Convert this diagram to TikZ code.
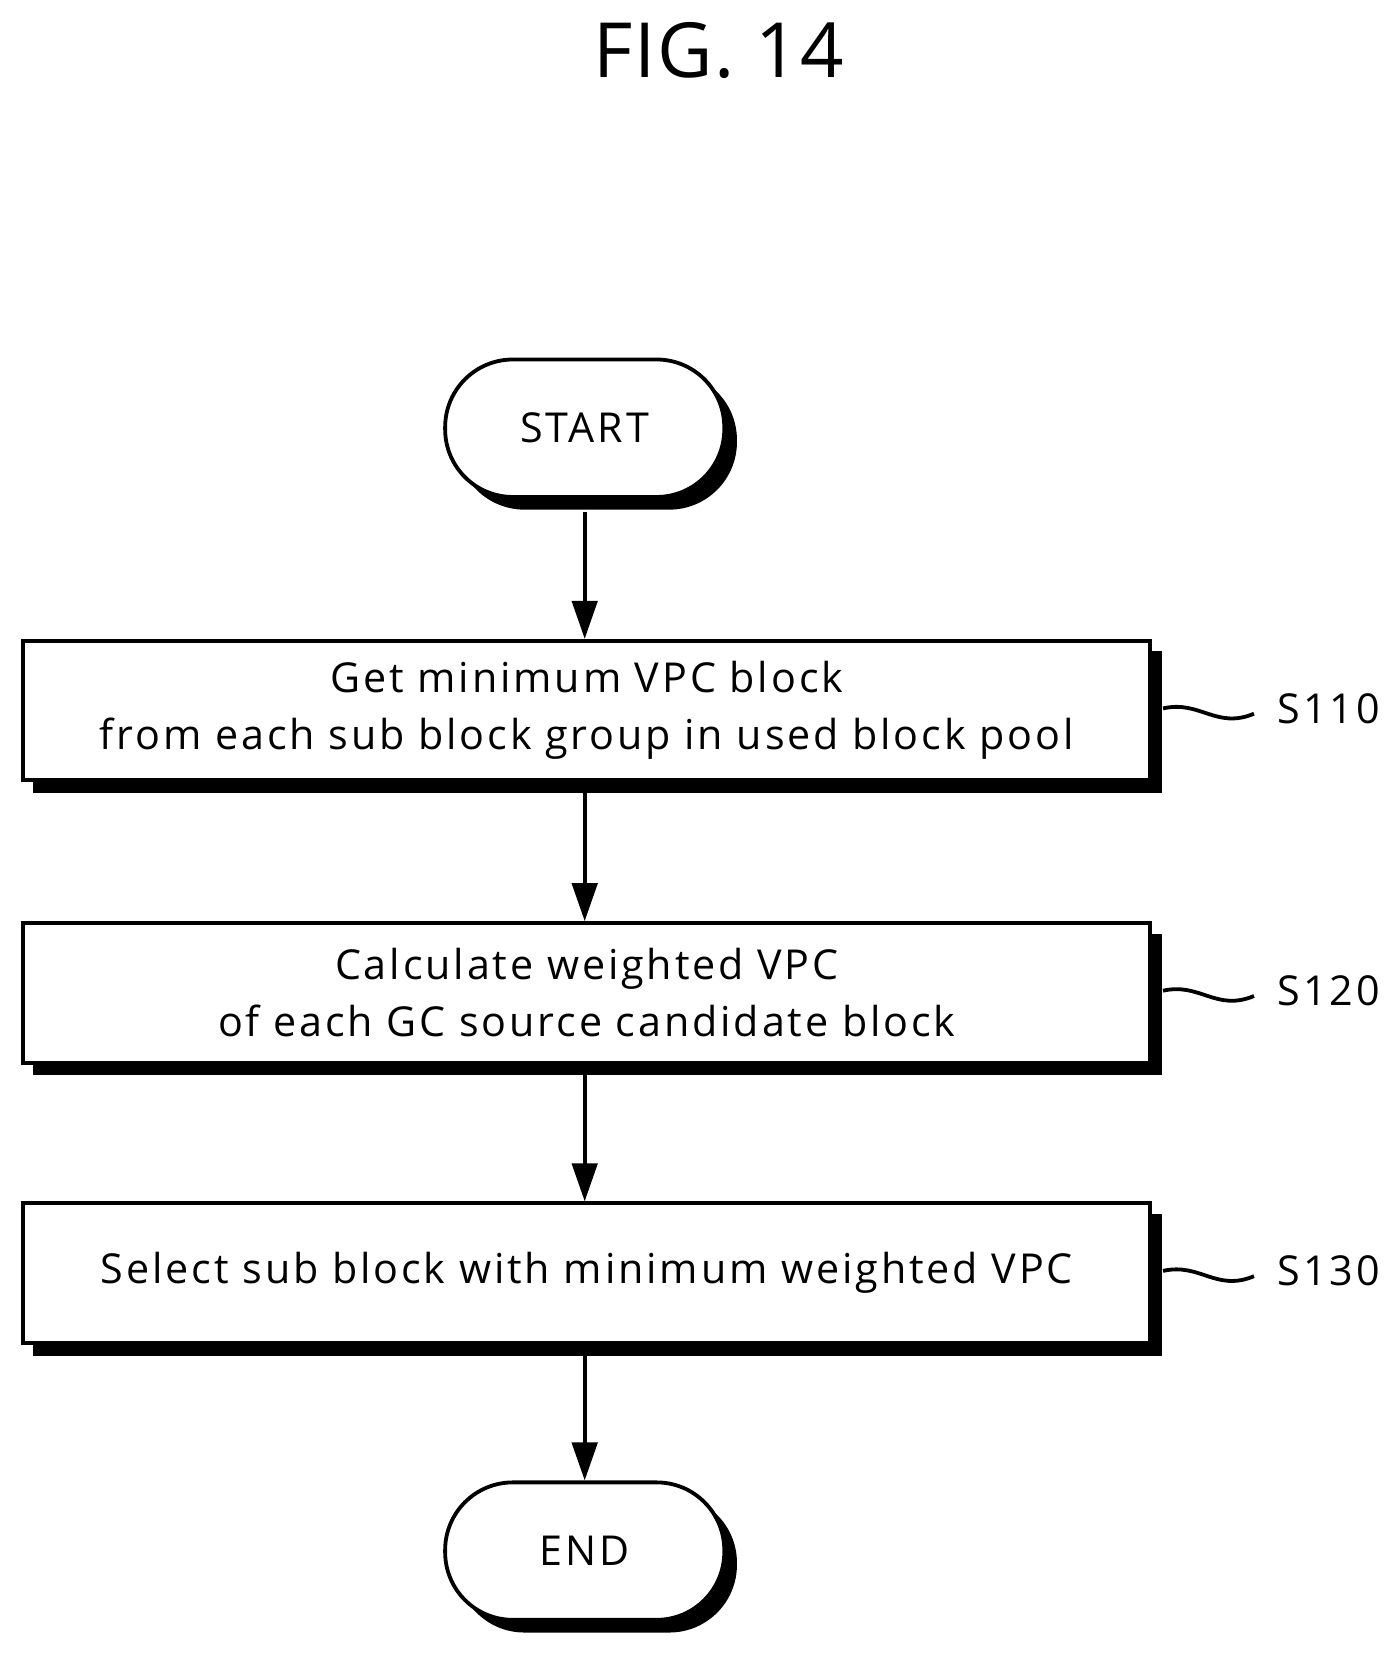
\documentclass[tikz,border=0pt]{standalone}
\usepackage{fontspec}
\setmainfont{Open Sans}[LetterSpace=7]
\usetikzlibrary{arrows.meta}
\begin{document}
\begin{tikzpicture}[x=0.5pt,y=-0.5pt,
  line width=1.8pt,
  box/.style={draw,fill=white,minimum width=533pt,minimum height=66pt,align=center,font=\fontsize{19.5}{27}\selectfont,inner sep=0pt},
  term/.style={draw,fill=white,rounded corners=32pt,minimum width=132pt,minimum height=65pt,font=\fontsize{19.5}{24}\selectfont,inner sep=0pt},
  arr/.style={-{Triangle[length=18pt,width=12pt]}},
  lbl/.style={font=\fontsize{19.5}{24}\selectfont,anchor=west}]
\useasboundingbox (0,0) rectangle (1320,1570);
\node[font=\fontsize{36}{40}\selectfont\addfontfeatures{LetterSpace=2}] (fig) at (680,48) {FIG. 14};
% shadows
\foreach \cy in {672,939,1204}
  \fill (31,\cy-56) rectangle (1099,\cy+78);
\fill[rounded corners=32pt] (432,352) rectangle (697,482);
\fill[rounded corners=32pt] (432,1414) rectangle (697,1544);
\node[term] (start) at (553,405) {START};
\node[term] (end) at (553,1467) {END};
\node[box] (b1) at (555,672) {Get minimum VPC block\\from each sub block group in used block pool};
\node[box] (b2) at (555,939) {Calculate weighted VPC\\of each GC source candidate block};
\node[box] (b3) at (555,1204) {Select sub block with minimum weighted VPC};
\coordinate (s0) at (553,484);
\coordinate (s1) at (553,750);
\coordinate (s2) at (553,1017);
\coordinate (s3) at (553,1282);
\draw[arr] (s0) -- (b1.north-|s0);
\draw[arr] (s1) -- (b2.north-|s1);
\draw[arr] (s2) -- (b3.north-|s2);
\draw[arr] (s3) -- (end.north);
\foreach \n/\cy/\t in {1/670/S110,2/937/S120,3/1202/S130}{
  \coordinate (w\n) at (1100,\cy);
  \node[lbl] (l\n) at (1200,\cy) {\t};
  \draw (w\n) .. controls (1135,\cy-8) and (1150,\cy+20) .. (1186,\cy+5);
}
\end{tikzpicture}
\end{document}
